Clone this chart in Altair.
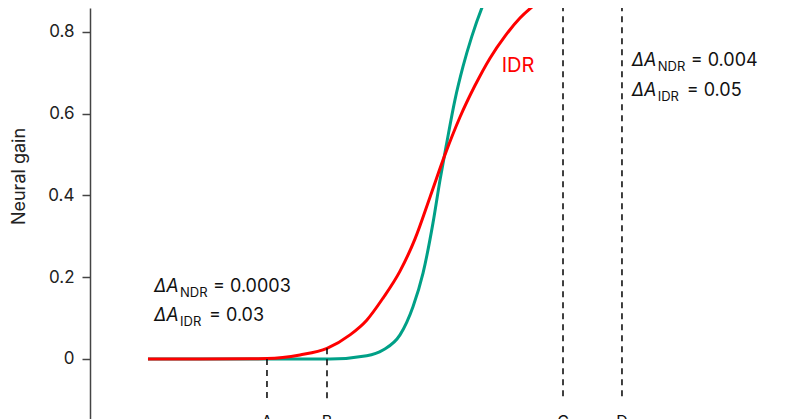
import altair as alt
import pandas as pd

# ---- data (x in arbitrary stimulus units) ----
idr_x = [0.826, 1.567, 2.279, 2.521, 2.991, 3.376, 3.704, 3.942, 4.174, 4.416,
         4.630, 4.843, 5.057, 5.271, 5.484, 5.698, 5.912, 6.125, 6.481, 6.980]
idr_y = [0.0, 0.0, 0.0005, 0.001, 0.010, 0.026, 0.059, 0.095, 0.149, 0.215,
         0.294, 0.396, 0.500, 0.592, 0.669, 0.736, 0.790, 0.834, 0.886, 0.937]

ndr_x = [0.826, 2.521, 3.419, 3.942, 4.174, 4.416, 4.601, 4.744, 4.886, 4.986,
         5.081, 5.199, 5.313, 5.437, 5.627, 5.840]
ndr_y = [0.0, 0.0, 0.0, 0.008, 0.022, 0.059, 0.128, 0.210, 0.333, 0.438,
         0.528, 0.634, 0.715, 0.788, 0.878, 0.950]

marker_names = ["A", "B", "C", "D"]
marker_x = [2.521, 3.376, 6.738, 7.578]
marker_top = [0.0, 0.026, 1.0, 1.0]
marker_bottom = [-0.100, -0.100, -0.100, -0.100]
marker_label_y = [-0.1346, -0.1346, -0.1346, -0.1346]

ann_x = [0.912, 0.912, 7.717, 7.717]
ann_y = [0.1639, 0.0930, 0.7156, 0.6422]
ann_sub = ["NDR", "IDR", "NDR", "IDR"]
ann_val = ["= 0.0003", "= 0.03", "= 0.004", "= 0.05"]

idr_label_x = [5.865]
idr_label_y = [0.7014]

y_ticks = [0, 0.2, 0.4, 0.6, 0.8]

TEAL = "#00A087"
RED = "#FE0000"
FONT = "Inter"

xs = alt.Scale(domain=[0, 10], nice=False, zero=False)
ys = alt.Scale(domain=[-0.1468, 0.8587], nice=False, zero=False)

ndr_df = pd.DataFrame({"x": ndr_x, "v": ndr_y})
idr_df = pd.DataFrame({"x": idr_x, "v": idr_y})
mk_df = pd.DataFrame({"name": marker_names, "x": marker_x, "top": marker_top,
                      "bottom": marker_bottom, "ly": marker_label_y})

yaxis = alt.Axis(values=y_ticks, title="Neural gain",
                 labelExpr="datum.value == 0 ? '0' : format(datum.value, '.1f')",
                 grid=False, domainColor="#444", domainWidth=1.5,
                 tickColor="#444", tickWidth=1.5, tickSize=8, labelPadding=8,
                 labelFontSize=17, labelColor="#222", labelFont=FONT,
                 titleFontSize=18, titleFont=FONT, titleFontWeight="normal",
                 titleColor="#222", titleX=-62, titleY=168, titleAngle=270,
                 titleBaseline="bottom", titleAlign="center")


def X(field):
    return alt.X(field, scale=xs, axis=None, title=None)


def Y(field):
    return alt.Y(field, scale=ys, axis=yaxis, title="Neural gain")


ndr_line = alt.Chart(ndr_df).mark_line(color=TEAL, strokeWidth=3, clip=True,
                                       interpolate="monotone").encode(
    x=X("x:Q"), y=Y("v:Q"))
idr_line = alt.Chart(idr_df).mark_line(color=RED, strokeWidth=3, clip=True,
                                       interpolate="monotone").encode(
    x=X("x:Q"), y=Y("v:Q"))

rules = alt.Chart(mk_df).mark_rule(color="#111", strokeWidth=1.6,
                                   strokeDash=[6, 5], clip=True).encode(
    x=X("x:Q"), y=Y("top:Q"), y2="bottom:Q")
letters = alt.Chart(mk_df).mark_text(font=FONT, fontSize=16, color="#111",
                                     baseline="top", align="center").encode(
    x=X("x:Q"), y=Y("ly:Q"), text="name:N")

layers = [ndr_line, idr_line, rules, letters]

for ax, ay, sub, val in zip(ann_x, ann_y, ann_sub, ann_val):
    d = pd.DataFrame({"x": [ax], "y": [ay], "a": ["\u0394A"], "s": [sub], "t": [val]})
    base = alt.Chart(d)
    enc = dict(x=X("x:Q"), y=Y("y:Q"))
    layers.append(base.mark_text(font=FONT, fontSize=18, fontStyle="italic", color="#111",
                                 align="left", baseline="alphabetic").encode(text="a:N", **enc))
    layers.append(base.mark_text(font=FONT, fontSize=13, color="#111", dx=26, dy=5,
                                 align="left", baseline="alphabetic").encode(text="s:N", **enc))
    layers.append(base.mark_text(font=FONT, fontSize=18, color="#111",
                                 dx=59 if sub == "NDR" else 55,
                                 align="left", baseline="alphabetic").encode(text="t:N", **enc))

lab_df = pd.DataFrame({"x": idr_label_x, "y": idr_label_y, "t": ["IDR"]})
layers.append(alt.Chart(lab_df).mark_text(font=FONT, fontSize=20, color=RED,
                                          align="left", baseline="alphabetic").encode(
    x=X("x:Q"), y=Y("y:Q"), text="t:N"))

chart = alt.layer(*layers).properties(
    width=702, height=411,
    padding={"left": 82, "top": 0, "right": 0, "bottom": 0},
    autosize="none",
).configure(font=FONT).configure_view(stroke=None)

chart.save("out.html", embed_options={"renderer": "svg", "actions": False})
